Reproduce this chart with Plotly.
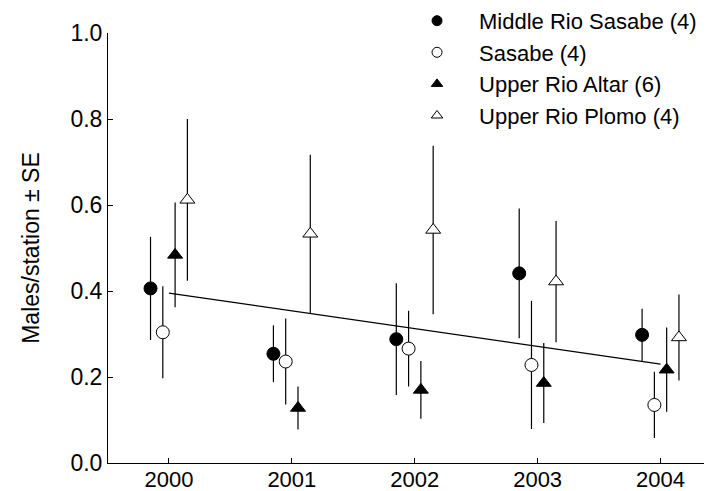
import plotly.graph_objects as go

years = [2000, 2001, 2002, 2003, 2004]

series_names = ["Middle Rio Sasabe (4)", "Sasabe (4)", "Upper Rio Altar (6)", "Upper Rio Plomo (4)"]

middle_rio_sasabe = [0.406, 0.254, 0.288, 0.441, 0.298]
middle_rio_sasabe_se = [0.120, 0.066, 0.130, 0.151, 0.061]

sasabe = [0.304, 0.236, 0.266, 0.228, 0.135]
sasabe_se = [0.107, 0.100, 0.088, 0.149, 0.077]

upper_rio_altar = [0.484, 0.128, 0.170, 0.186, 0.217]
upper_rio_altar_se = [0.122, 0.050, 0.067, 0.093, 0.098]

upper_rio_plomo = [0.612, 0.533, 0.542, 0.422, 0.292]
upper_rio_plomo_se = [0.188, 0.184, 0.196, 0.141, 0.100]

trend_years = [2000, 2004]
trend_values = [0.395, 0.230]

y_ticks = [0.0, 0.2, 0.4, 0.6, 0.8, 1.0]

values = [middle_rio_sasabe, sasabe, upper_rio_altar, upper_rio_plomo]
errors = [middle_rio_sasabe_se, sasabe_se, upper_rio_altar_se, upper_rio_plomo_se]
offsets = [-0.15, -0.05, 0.05, 0.15]
symbols = ["circle", "circle", "triangle-up", "triangle-up"]
fills = ["black", "white", "black", "white"]

FONT = "Liberation Sans, Arial, Helvetica, sans-serif"

fig = go.Figure()

fig.add_trace(go.Scatter(
    x=trend_years, y=trend_values, mode="lines",
    line=dict(color="black", width=1.3), showlegend=False, hoverinfo="skip"))

for i in range(4):
    fig.add_trace(go.Scatter(
        x=[yr + offsets[i] for yr in years], y=values[i], mode="markers",
        marker=dict(symbol=symbols[i], size=13, color=fills[i],
                    line=dict(color="black", width=1)),
        error_y=dict(type="data", array=errors[i], visible=True,
                     color="black", thickness=1.2, width=0),
        showlegend=False, name=series_names[i]))

# legend entries
for i in range(4):
    fig.add_trace(go.Scatter(
        x=[None], y=[None], mode="markers", name=series_names[i],
        marker=dict(symbol=symbols[i], size=10, color=fills[i],
                    line=dict(color="black", width=1)),
        showlegend=True))

fig.update_layout(
    width=712, height=491,
    margin=dict(l=100, r=0, t=25, b=36, autoexpand=False),
    paper_bgcolor="white", plot_bgcolor="white",
    font=dict(family=FONT, size=23, color="black"),
    legend=dict(x=0.469, y=1.077, xanchor="left", yanchor="top",
                bgcolor="rgba(0,0,0,0)", font=dict(size=22, family=FONT),
                itemclick=False, tracegroupgap=0, itemwidth=74),
    xaxis=dict(range=[1999.504, 2004.484], tickmode="array", tickvals=years,
               ticktext=[str(y) for y in years],
               showline=True, linecolor="black", linewidth=1,
               ticks="inside", ticklen=5, tickcolor="black", tickwidth=1,
               showgrid=False, zeroline=False, mirror=False,
               ticklabelstandoff=-3,
               tickfont=dict(size=22, family=FONT)),
    yaxis=dict(range=[0, 1.0], tickmode="array", tickvals=y_ticks,
               ticktext=["%.1f" % v for v in y_ticks],
               showline=True, linecolor="black", linewidth=1,
               ticks="inside", ticklen=5, tickcolor="black", tickwidth=1,
               showgrid=False, zeroline=False, mirror=False,
               tickfont=dict(size=23, family=FONT),
               title=dict(text="Males/station ± SE", font=dict(size=23, family=FONT),
                          standoff=24)),
)

fig.write_html("out.html")
